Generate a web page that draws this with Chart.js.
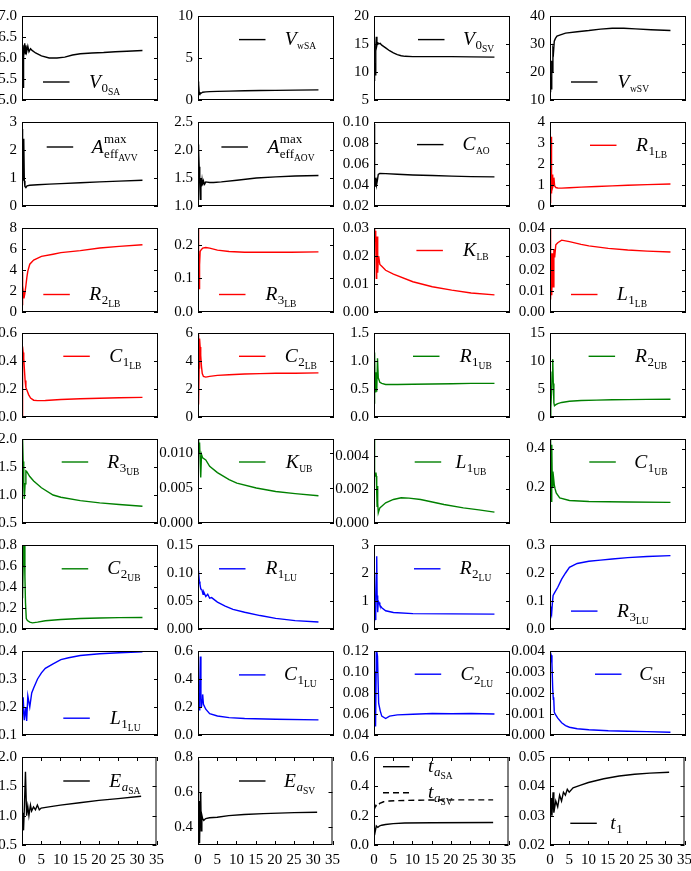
<!DOCTYPE html>
<html><head><meta charset="utf-8">
<script src="https://cdn.jsdelivr.net/npm/chart.js@4.4.0/dist/chart.umd.min.js"></script>
<style>
html,body{margin:0;padding:0;background:#fff;width:691px;height:871px;overflow:hidden;position:relative}
canvas{position:absolute}
</style></head><body>
<script>
// ---------- DATA ----------
const xTickLabels = ['0','5','10','15','20','25','30','35'];

const x_V0SA = [0,0.1,0.2,0.28,0.4,0.55,0.7,0.85,1.0,1.2,1.5,1.8,2.2,2.6,3.5,5,7,9,11,13,15,18,21,24,27,31];
const y_V0SA = [6.2,5.8,6.3,5.3,6.0,6.3,6.35,6.1,6.3,6.15,6.28,6.15,6.22,6.18,6.12,6.05,6.0,6.0,6.02,6.07,6.1,6.12,6.13,6.15,6.16,6.18];
const yt_V0SA = ['5.0','5.5','6.0','6.5','7.0'];

const x_VwSA = [0,0.1,0.2,0.35,0.5,0.8,1.2,2,3,5,8,12,16,20,25,31];
const y_VwSA = [2.2,1.6,1.9,0.65,0.85,0.8,0.92,0.97,1.0,1.03,1.06,1.1,1.13,1.15,1.18,1.2];
const yt_VwSA = ['0','5','10'];

const x_V0SV = [0,0.15,0.3,0.45,0.6,0.75,0.9,1.2,1.6,2,3,4,5,6,7,8,10,13,16,20,25,31];
const y_V0SV = [8.5,11.5,9.5,14.5,16.3,14.8,15.3,15.0,15.1,14.8,14.3,13.8,13.4,13.1,12.9,12.8,12.75,12.75,12.75,12.75,12.7,12.65];
const yt_V0SV = ['5','10','15','20'];

const x_VwSV = [0,0.15,0.3,0.45,0.6,0.75,0.9,1.1,1.4,1.8,2.5,4,7,10,13,16,19,22,26,31];
const y_VwSV = [13,18,14,24,20,28,27,31,32,32.8,33.2,33.9,34.4,34.8,35.3,35.6,35.6,35.4,35.1,34.8];
const yt_VwSV = ['10','20','30','40'];

const x_AAVV = [0,0.1,0.2,0.3,0.4,0.5,0.6,0.75,1.0,1.3,2,4,7,10,15,20,25,31];
const y_AAVV = [2.75,2.6,1.2,2.0,0.9,2.4,0.9,0.7,0.66,0.72,0.74,0.76,0.78,0.8,0.83,0.86,0.89,0.92];
const yt_AAVV = ['0','1','2','3'];

const x_AAOV = [0,0.15,0.3,0.45,0.6,0.75,0.9,1.05,1.2,1.4,1.7,2,3,4,6,10,15,20,25,31];
const y_AAOV = [2.1,2.0,1.7,1.4,1.12,1.5,1.35,1.46,1.37,1.45,1.39,1.43,1.42,1.42,1.43,1.46,1.5,1.52,1.535,1.545];
const yt_AAOV = ['1.0','1.5','2.0','2.5'];

const x_CAO = [0,0.1,0.2,0.35,0.5,0.65,0.85,1.1,1.5,3,6,10,15,20,25,31];
const y_CAO = [0.098,0.07,0.045,0.039,0.047,0.04,0.044,0.05,0.051,0.0508,0.0502,0.0495,0.049,0.0485,0.048,0.0477];
const yt_CAO = ['0.02','0.04','0.06','0.08','0.10'];

const x_R1LB = [0,0.1,0.2,0.3,0.4,0.55,0.7,0.85,1.0,1.2,1.5,2,3,5,8,12,16,20,25,31];
const y_R1LB = [0.3,0.8,0.25,3.3,0.6,1.5,0.9,1.0,1.35,0.95,0.88,0.86,0.85,0.87,0.9,0.93,0.96,0.99,1.02,1.05];
const yt_R1LB = ['0','1','2','3','4'];

const x_R2LB = [0,0.1,0.2,0.3,0.5,0.75,1.0,1.25,1.5,2,3,5,8,10,15,20,25,31];
const y_R2LB = [0.7,3.8,1.5,2.0,1.3,1.8,2.5,3.3,3.9,4.55,4.95,5.3,5.5,5.65,5.85,6.1,6.25,6.4];
const yt_R2LB = ['0','2','4','6','8'];

const x_R3LB = [0,0.1,0.2,0.3,0.4,0.55,0.8,1.2,2,3,5,8,12,18,24,31];
const y_R3LB = [0.25,0.15,0.08,0.07,0.14,0.18,0.185,0.19,0.192,0.19,0.184,0.18,0.178,0.178,0.178,0.179];
const yt_R3LB = ['0.0','0.1','0.2'];

const x_KLB = [0,0.1,0.2,0.3,0.4,0.5,0.6,0.7,0.8,0.9,1.0,1.1,1.2,1.5,2,3,5,10,15,20,25,31];
const y_KLB = [0.03,0.025,0.03,0.026,0.029,0.025,0.012,0.02,0.027,0.018,0.014,0.019,0.02,0.017,0.0163,0.0149,0.0135,0.0108,0.009,0.0078,0.0068,0.0061];
const yt_KLB = ['0.00','0.01','0.02','0.03'];

const x_L1LB = [0,0.1,0.2,0.3,0.4,0.5,0.65,0.8,1.0,1.2,1.5,2,3,5,8,10,15,20,25,31];
const y_L1LB = [0.04,0.02,0.006,0.02,0.028,0.008,0.028,0.012,0.03,0.026,0.032,0.033,0.0342,0.0335,0.0322,0.0315,0.0303,0.0295,0.029,0.0286];
const yt_L1LB = ['0.00','0.01','0.02','0.03','0.04'];

const x_C1LB = [0,0.1,0.2,0.3,0.45,0.6,0.8,1.0,1.3,1.7,2.2,3,4,6,10,15,20,25,31];
const y_C1LB = [0.01,0.2,0.42,0.46,0.42,0.35,0.26,0.21,0.19,0.16,0.135,0.12,0.117,0.118,0.125,0.13,0.134,0.137,0.14];
const yt_C1LB = ['0.0','0.2','0.4','0.6'];

const x_C2LB = [0,0.1,0.2,0.3,0.4,0.55,0.7,0.9,1.1,1.4,2,3,5,8,12,16,20,25,31];
const y_C2LB = [5.9,2.0,0.9,3.5,5.6,5.0,4.4,3.6,3.1,2.9,2.85,2.9,2.97,3.02,3.07,3.1,3.12,3.13,3.15];
const yt_C2LB = ['0','2','4','6'];

const x_R1UB = [0,0.15,0.3,0.4,0.5,0.6,0.7,0.9,1.1,1.5,2,3,6,10,15,20,25,31];
const y_R1UB = [0.25,1.15,0.45,0.8,0.5,0.7,0.45,1.05,0.7,0.62,0.6,0.58,0.58,0.585,0.59,0.595,0.6,0.6];
const yt_R1UB = ['0.0','0.5','1.0','1.5'];

const x_R2UB = [0,0.2,0.4,0.55,0.7,0.85,1.0,1.15,1.5,2,3,5,8,12,16,20,25,31];
const y_R2UB = [0.1,1.5,4.5,8,10.3,6,2.5,2.0,2.2,2.4,2.6,2.8,2.95,3.02,3.07,3.1,3.15,3.18];
const yt_R2UB = ['0','5','10','15'];

const x_R3UB = [0,0.1,0.2,0.3,0.45,0.6,0.8,1.0,1.2,2,3,5,8,10,15,20,25,31];
const y_R3UB = [2.0,1.5,2.0,1.6,1.2,0.93,1.2,1.43,1.42,1.33,1.25,1.13,1.0,0.96,0.9,0.86,0.83,0.8];
const yt_R3UB = ['0.5','1.0','1.5','2.0'];

const x_KUB = [0,0.1,0.2,0.3,0.4,0.55,0.7,0.9,1.2,2,3,5,8,10,15,20,25,31];
const y_KUB = [0.012,0.0105,0.0118,0.01,0.0115,0.009,0.0065,0.0098,0.0093,0.009,0.0081,0.0072,0.0062,0.0057,0.005,0.0045,0.0042,0.0039];
const yt_KUB = ['0.000','0.005','0.010'];

const x_L1UB = [0,0.1,0.2,0.35,0.5,0.6,0.7,0.8,0.9,1.0,1.1,1.5,2,3,5,7,9,12,15,18,23,27,31];
const y_L1UB = [0.005,0.0038,0.003,0.0028,0.003,0.0028,0.0018,0.001,0.0022,0.0012,0.0006,0.0009,0.001,0.0012,0.0014,0.0015,0.00148,0.0014,0.00125,0.0011,0.0009,0.00078,0.00065];
const yt_L1UB = ['0.000','0.002','0.004'];

const x_C1UB = [0,0.1,0.2,0.3,0.4,0.5,0.6,0.75,0.9,1.1,1.3,1.6,2.5,5,10,20,31];
const y_C1UB = [0.45,0.3,0.45,0.2,0.12,0.42,0.2,0.28,0.25,0.21,0.19,0.168,0.142,0.128,0.123,0.12,0.118];
const yt_C1UB = ['0.2','0.4'];

const x_C2UB = [0,0.1,0.2,0.3,0.4,0.5,0.6,0.75,0.9,1.1,1.4,2,2.7,4,6,10,15,20,25,31];
const y_C2UB = [0.3,0.45,0.32,0.6,0.8,0.75,0.8,0.5,0.25,0.1,0.08,0.065,0.058,0.065,0.078,0.09,0.1,0.105,0.108,0.11];
const yt_C2UB = ['0.0','0.2','0.4','0.6','0.8'];

const x_R1LU = [0,0.1,0.2,0.35,0.5,0.7,1,1.3,1.5,2,2.5,3,3.5,5,7,9,12,16,20,25,31];
const y_R1LU = [0.104,0.095,0.1,0.085,0.08,0.072,0.07,0.062,0.066,0.058,0.062,0.055,0.056,0.048,0.041,0.035,0.03,0.024,0.019,0.015,0.0125];
const yt_R1LU = ['0.00','0.05','0.10','0.15'];

const x_R2LU = [0,0.15,0.3,0.45,0.6,0.7,0.8,0.95,1.1,1.3,1.5,2,3,5,10,20,31];
const y_R2LU = [0.3,0.8,0.35,1.2,2.0,2.6,1.2,0.6,1.0,0.95,0.85,0.76,0.65,0.59,0.55,0.54,0.53];
const yt_R2LU = ['0','1','2','3'];

const x_R3LU = [0,0.2,0.4,0.6,0.8,1.2,2,3,4,5,7,10,13,16,20,25,31];
const y_R3LU = [0.08,0.06,0.05,0.09,0.12,0.13,0.149,0.178,0.2,0.22,0.234,0.242,0.246,0.25,0.255,0.259,0.262];
const yt_R3LU = ['0.0','0.1','0.2','0.3'];

const x_L1LU = [0,0.3,0.6,1,1.2,1.5,2,2.5,3,4,5,6,8,10,12,15,20,25,31];
const y_L1LU = [0.12,0.235,0.153,0.2,0.15,0.24,0.2,0.25,0.268,0.3,0.322,0.338,0.354,0.369,0.376,0.384,0.39,0.394,0.397];
const yt_L1LU = ['0.1','0.2','0.3','0.4'];

const x_C1LU = [0,0.15,0.3,0.45,0.6,0.75,0.9,1.05,1.2,1.4,2,3,5,8,12,20,31];
const y_C1LU = [0.18,0.3,0.18,0.35,0.56,0.3,0.2,0.25,0.29,0.22,0.184,0.152,0.136,0.124,0.118,0.113,0.108];
const yt_C1LU = ['0.0','0.2','0.4','0.6'];

const x_C2LU = [0,0.2,0.4,0.55,0.7,0.9,1.2,1.6,2,3,4,6,10,15,20,25,31];
const y_C2LU = [0.12,0.08,0.048,0.1,0.12,0.115,0.07,0.063,0.058,0.0557,0.058,0.0592,0.0598,0.0605,0.0602,0.0605,0.06];
const yt_C2LU = ['0.04','0.06','0.08','0.10','0.12'];

const x_CSH = [0,0.3,0.5,0.7,0.85,0.95,1.1,1.3,2,3,4,5,7,10,15,20,25,31];
const y_CSH = [0.004,0.0038,0.0034,0.0022,0.0017,0.0018,0.0011,0.001,0.0008,0.00058,0.00045,0.00037,0.0003,0.00025,0.0002,0.00018,0.00016,0.00013];
const yt_CSH = ['0.000','0.001','0.002','0.003','0.004'];

const x_EaSA = [0,0.2,0.4,0.65,0.9,1.2,1.5,1.8,2.2,2.5,3,3.5,4,4.5,5,7,10,15,20,25,31];
const y_EaSA = [1.05,0.9,0.75,1.2,1.75,1.0,1.16,1.0,1.18,1.08,1.15,1.1,1.18,1.1,1.13,1.15,1.18,1.22,1.26,1.29,1.33];
const yt_EaSA = ['0.5','1.0','1.5','2.0'];

const x_EaSV = [0,0.1,0.2,0.3,0.4,0.55,0.7,0.85,1.0,1.2,1.5,2,3,5,8,12,17,25,31];
const y_EaSV = [0.45,0.78,0.35,0.55,0.31,0.5,0.6,0.38,0.47,0.45,0.44,0.45,0.455,0.458,0.467,0.473,0.478,0.484,0.486];
const yt_EaSV = ['0.4','0.6','0.8'];

const x_taSA = [0,0.3,0.6,1,1.5,2,3,5,8,15,31];
const y_taSA = [0.13,0.09,0.13,0.12,0.131,0.135,0.14,0.146,0.15,0.152,0.153];
const x_taSV = [0,0.5,0.8,1.5,2.5,4,8,15,31];
const y_taSV = [0.24,0.27,0.26,0.284,0.295,0.3,0.304,0.307,0.308];
const yt_ta = ['0.0','0.2','0.4','0.6'];

const x_t1 = [0,0.3,0.5,0.8,1,1.5,2,2.5,3,3.5,4,4.5,5,6,8,10,14,18,22,26,31];
const y_t1 = [0.027,0.036,0.03,0.038,0.031,0.035,0.033,0.037,0.035,0.038,0.037,0.039,0.038,0.0395,0.0404,0.0413,0.0426,0.0435,0.0441,0.0445,0.0448];
const yt_t1 = ['0.02','0.03','0.04','0.05'];

// ---------- LAYOUT / STYLE ----------
const COLS = [22,198,374,550];
const ROWS = [16,122,228,333,439,545,651,757];
const PW = 136, PH = 92;
const FONT = '"Liberation Serif", "Times New Roman", serif';
const K = '#000000', R = '#ff0000', G = '#008000', B = '#0000ff';

// label segments: [text, italic, size, dy, keepX]
function L0(m, d, caps){ return [[m,1,19.5,0],[d,0,13,4],[caps,0,9.5,7]]; }
function L1(m, caps){ return [[m,1,19.5,0],[caps,0,9.5,4]]; }
function LA(m, caps){ return [[m,1,19.5,0],['a',1,13,4],[caps,0,9.5,7]]; }
function LM(caps){ return [['A',1,19.5,0],['max',0,13,-10,1],['eff',0,13,5],[caps,0,9.5,8]]; }

const panels = [
 {r:0,c:0,ymin:5,ymax:7,yt:yt_V0SA,s:[{x:x_V0SA,y:y_V0SA,col:K,lab:L0('V','0','SA')}],lg:[21,66,67]},
 {r:0,c:1,ymin:0,ymax:10,yt:yt_VwSA,s:[{x:x_VwSA,y:y_VwSA,col:K,lab:L1('V','wSA')}],lg:[41,23.6,86.7]},
 {r:0,c:2,ymin:5,ymax:20,yt:yt_V0SV,s:[{x:x_V0SV,y:y_V0SV,col:K,lab:L0('V','0','SV')}],lg:[44,23.6,89]},
 {r:0,c:3,ymin:10,ymax:40,yt:yt_VwSV,s:[{x:x_VwSV,y:y_VwSV,col:K,lab:L1('V','wSV')}],lg:[21,66,67.6]},
 {r:1,c:0,ymin:0,ymax:3,yt:yt_AAVV,s:[{x:x_AAVV,y:y_AAVV,col:K,lab:LM('AVV')}],lg:[24.7,25,69.7]},
 {r:1,c:1,ymin:1,ymax:2.5,yt:yt_AAOV,s:[{x:x_AAOV,y:y_AAOV,col:K,lab:LM('AOV')}],lg:[23.4,25,69.4]},
 {r:1,c:2,ymin:0.02,ymax:0.10,yt:yt_CAO,s:[{x:x_CAO,y:y_CAO,col:K,lab:L1('C','AO')}],lg:[43,22.6,88.4]},
 {r:1,c:3,ymin:0,ymax:4,yt:yt_R1LB,s:[{x:x_R1LB,y:y_R1LB,col:R,lab:L0('R','1','LB')}],lg:[40,23.3,86]},
 {r:2,c:0,ymin:0,ymax:8,yt:yt_R2LB,s:[{x:x_R2LB,y:y_R2LB,col:R,lab:L0('R','2','LB')}],lg:[21.3,66.5,67.3]},
 {r:2,c:1,ymin:0,ymax:0.25,yt:yt_R3LB,s:[{x:x_R3LB,y:y_R3LB,col:R,lab:L0('R','3','LB')}],lg:[21,66.5,67.4]},
 {r:2,c:2,ymin:0,ymax:0.03,yt:yt_KLB,s:[{x:x_KLB,y:y_KLB,col:R,lab:L1('K','LB')}],lg:[42.4,22.5,89]},
 {r:2,c:3,ymin:0,ymax:0.04,yt:yt_L1LB,s:[{x:x_L1LB,y:y_L1LB,col:R,lab:L0('L','1','LB')}],lg:[21,66.5,67]},
 {r:3,c:0,ymin:0,ymax:0.6,yt:yt_C1LB,s:[{x:x_C1LB,y:y_C1LB,col:R,lab:L0('C','1','LB')}],lg:[41.3,23.3,87.3]},
 {r:3,c:1,ymin:0,ymax:6,yt:yt_C2LB,s:[{x:x_C2LB,y:y_C2LB,col:R,lab:L0('C','2','LB')}],lg:[41,23.3,86.7]},
 {r:3,c:2,ymin:0,ymax:1.5,yt:yt_R1UB,s:[{x:x_R1UB,y:y_R1UB,col:G,lab:L0('R','1','UB')}],lg:[39,23.3,85.7]},
 {r:3,c:3,ymin:0,ymax:15,yt:yt_R2UB,s:[{x:x_R2UB,y:y_R2UB,col:G,lab:L0('R','2','UB')}],lg:[38.6,23.3,85]},
 {r:4,c:0,ymin:0.5,ymax:2,yt:yt_R3UB,s:[{x:x_R3UB,y:y_R3UB,col:G,lab:L0('R','3','UB')}],lg:[39.7,23,85.3]},
 {r:4,c:1,ymin:0,ymax:0.012,yt:yt_KUB,s:[{x:x_KUB,y:y_KUB,col:G,lab:L1('K','UB')}],lg:[41,23,87.7]},
 {r:4,c:2,ymin:0,ymax:0.005,yt:yt_L1UB,s:[{x:x_L1UB,y:y_L1UB,col:G,lab:L0('L','1','UB')}],lg:[40.7,23,81.4]},
 {r:4,c:3,ymin:0.01,ymax:0.45,yt:yt_C1UB,s:[{x:x_C1UB,y:y_C1UB,col:G,lab:L0('C','1','UB')}],lg:[39.3,23,84.3]},
 {r:5,c:0,ymin:0,ymax:0.8,yt:yt_C2UB,s:[{x:x_C2UB,y:y_C2UB,col:G,lab:L0('C','2','UB')}],lg:[39.7,23.8,85.3]},
 {r:5,c:1,ymin:0,ymax:0.15,yt:yt_R1LU,s:[{x:x_R1LU,y:y_R1LU,col:B,lab:L0('R','1','LU')}],lg:[21,23.8,67.4]},
 {r:5,c:2,ymin:0,ymax:3,yt:yt_R2LU,s:[{x:x_R2LU,y:y_R2LU,col:B,lab:L0('R','2','LU')}],lg:[40,23.8,85.7]},
 {r:5,c:3,ymin:0,ymax:0.3,yt:yt_R3LU,s:[{x:x_R3LU,y:y_R3LU,col:B,lab:L0('R','3','LU')}],lg:[21,66.1,67]},
 {r:6,c:0,ymin:0.1,ymax:0.4,yt:yt_L1LU,s:[{x:x_L1LU,y:y_L1LU,col:B,lab:L0('L','1','LU')}],lg:[41.3,67.2,88]},
 {r:6,c:1,ymin:0,ymax:0.6,yt:yt_C1LU,s:[{x:x_C1LU,y:y_C1LU,col:B,lab:L0('C','1','LU')}],lg:[41,23.9,86]},
 {r:6,c:2,ymin:0.04,ymax:0.12,yt:yt_C2LU,s:[{x:x_C2LU,y:y_C2LU,col:B,lab:L0('C','2','LU')}],lg:[40.7,23.2,86.4]},
 {r:6,c:3,ymin:0,ymax:0.004,yt:yt_CSH,s:[{x:x_CSH,y:y_CSH,col:B,lab:L1('C','SH')}],lg:[45,23.2,89.3]},
 {r:7,c:0,ymin:0.5,ymax:2,yt:yt_EaSA,s:[{x:x_EaSA,y:y_EaSA,col:K,lab:LA('E','SA')}],lg:[41.3,24,87.3]},
 {r:7,c:1,ymin:0.3,ymax:0.8,yt:yt_EaSV,s:[{x:x_EaSV,y:y_EaSV,col:K,lab:LA('E','SV')}],lg:[41,24,86]},
 {r:7,c:2,ymin:0,ymax:0.6,yt:yt_ta,s:[{x:x_taSA,y:y_taSA,col:K,lab:LA('t','SA')},{x:x_taSV,y:y_taSV,col:K,dash:[6,4],lab:LA('t','SV')}],lg:[9,9.7,54,26]},
 {r:7,c:3,ymin:0.02,ymax:0.05,yt:yt_t1,s:[{x:x_t1,y:y_t1,col:K,lab:[['t',1,19.5,0],['1',0,13,4]]}],lg:[20.3,66.3,60.3]}
];

const framePlugin = {
  id:'frame',
  afterDraw(chart){
    const {ctx, chartArea:a, scales} = chart;
    const p = chart.$panel;
    ctx.save();
    ctx.strokeStyle = '#000'; ctx.lineWidth = 1;
    ctx.strokeRect(a.left+0.5, a.top+0.5, a.right-a.left-1, a.bottom-a.top-1);
    ctx.beginPath();
    scales.y.ticks.forEach(t=>{
      const y = Math.round(scales.y.getPixelForValue(t.value))+0.5;
      ctx.moveTo(a.left, y); ctx.lineTo(a.left+4, y);
      ctx.moveTo(a.right-4, y); ctx.lineTo(a.right, y);
    });
    if (p.r === 7) {
      scales.x.ticks.forEach(t=>{
        const x = Math.round(scales.x.getPixelForValue(t.value))+0.5;
        ctx.moveTo(x, a.bottom); ctx.lineTo(x, a.bottom-4);
        ctx.moveTo(x, a.top); ctx.lineTo(x, a.top+4);
      });
    }
    ctx.stroke();
    // legend
    const [lx, ly, tx, gap] = p.lg;
    p.s.forEach((s, k)=>{
      const yy = a.top + ly + k*(gap||0);
      ctx.beginPath();
      ctx.strokeStyle = s.col; ctx.lineWidth = 1.4;
      ctx.setLineDash(s.dash || []);
      ctx.moveTo(a.left+lx, yy); ctx.lineTo(a.left+lx+26.5, yy);
      ctx.stroke();
      ctx.setLineDash([]);
      let x = a.left + tx;
      const base = yy + 5.5;
      ctx.fillStyle = '#000';
      ctx.textBaseline = 'alphabetic';
      ctx.textAlign = 'left';
      s.lab.forEach(seg=>{
        const [t, it, sz, dy, keep] = seg;
        ctx.font = (it ? 'italic ' : '') + sz + 'px ' + FONT;
        ctx.fillText(t, x, base + dy);
        if (!keep) x += ctx.measureText(t).width + (it && sz > 15 ? 0.5 : 0);
      });
    });
    ctx.restore();
  }
};

panels.forEach(p=>{
  const bottom = p.r === 7;
  const YW = 50, PT = 10, PR = 12, PB = 10, XH = bottom ? 24 : 0;
  const W = YW + PW + PR, H = PT + PH + XH + PB;
  const cv = document.createElement('canvas');
  cv.width = W; cv.height = H;
  cv.style.width = W + 'px'; cv.style.height = H + 'px';
  cv.style.left = (COLS[p.c] - YW) + 'px';
  cv.style.top = (ROWS[p.r] - PT) + 'px';
  document.body.appendChild(cv);
  const yv = p.yt.map(parseFloat);
  const xv = xTickLabels.map(parseFloat);
  const chart = new Chart(cv, {
    type: 'line',
    data: { datasets: p.s.map(s=>({
      data: s.x.map((v,i)=>({x:v, y:s.y[i]})),
      borderColor: s.col, borderWidth: 1.4, borderDash: s.dash || [],
      pointRadius: 0, fill: false, tension: 0
    })) },
    options: {
      responsive: false, animation: false, devicePixelRatio: 1,
      layout: { padding: { top: PT, right: PR, bottom: PB, left: 0 } },
      plugins: { legend: { display: false }, tooltip: { enabled: false } },
      events: [],
      scales: {
        x: { type: 'linear', min: 0, max: 35,
          afterBuildTicks: sc => { sc.ticks = xv.map(v=>({value:v})); },
          ticks: { display: bottom, autoSkip: false, maxRotation: 0, padding: 6,
                   font: { family: FONT, size: 15 }, color: '#000',
                   callback: (v,i) => xTickLabels[i] },
          grid: { display: false, drawTicks: false }, border: { display: false },
          afterFit: sc => { sc.height = XH; } },
        y: { type: 'linear', min: p.ymin, max: p.ymax,
          afterBuildTicks: sc => { sc.ticks = yv.map(v=>({value:v})); },
          ticks: { autoSkip: false, padding: 5, font: { family: FONT, size: 15 }, color: '#000',
                   callback: (v,i) => p.yt[i] },
          grid: { display: false, drawTicks: false }, border: { display: false },
          afterFit: sc => { sc.width = YW; } }
      }
    },
    plugins: [ { id:'tag', beforeInit(c){ c.$panel = p; } }, framePlugin ]
  });
  const a = chart.chartArea;
  cv.style.left = (COLS[p.c] - a.left) + 'px';
  cv.style.top = (ROWS[p.r] - a.top) + 'px';
});
</script>
</body></html>
